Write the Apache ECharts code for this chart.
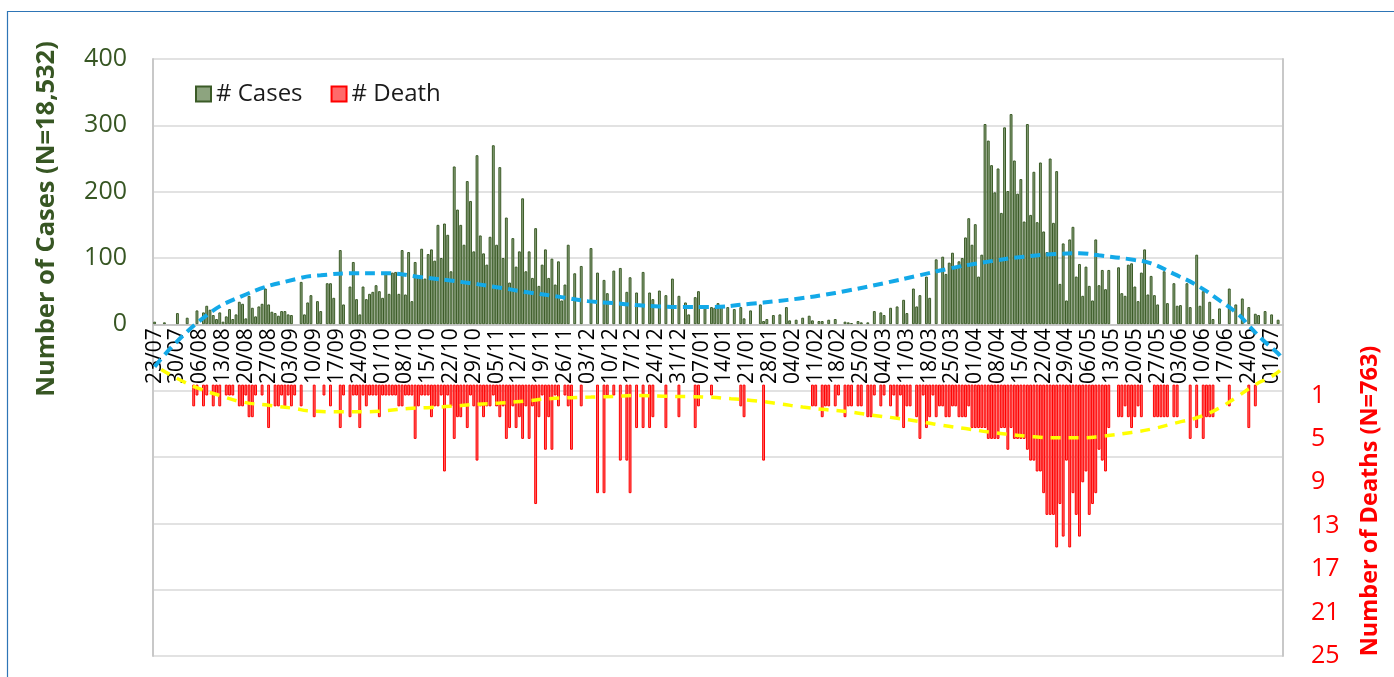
<!DOCTYPE html>
<html>
<head>
<meta charset="utf-8">
<script src="https://cdn.jsdelivr.net/npm/echarts@6.0.0/dist/echarts.min.js"></script>
<style>
html, body { margin: 0; padding: 0; background: #fff; }
#chart { width: 1394px; height: 677px; }
</style>
</head>
<body>
<div id="chart"></div>
<script>
// daily categories, 23/07 .. 04/07 (347 days)
const START_DAY = Date.UTC(2020, 6, 23);
const DAY_COUNT = 347;

// daily cases, one row per week starting 23/07
const cases = [
    4, 0, 0, 3, 0, 0, 0,
    17, 0, 0, 10, 0, 0, 21,
    0, 18, 28, 22, 14, 8, 18,
    4, 12, 23, 8, 15, 34, 31,
    9, 43, 25, 12, 27, 31, 54,
    30, 19, 17, 13, 20, 20, 15,
    14, 0, 0, 64, 15, 33, 44,
    0, 35, 20, 0, 62, 62, 40,
    0, 112, 30, 0, 57, 94, 38,
    15, 57, 38, 46, 49, 59, 50,
    40, 79, 46, 78, 79, 46, 112,
    45, 109, 35, 94, 73, 114, 69,
    106, 113, 96, 150, 100, 152, 135,
    80, 238, 173, 150, 120, 216, 186,
    110, 255, 134, 107, 90, 132, 270,
    120, 237, 100, 161, 63, 130, 87,
    110, 190, 80, 110, 70, 145, 58,
    90, 113, 70, 99, 60, 95, 36,
    60, 120, 0, 77, 0, 88, 0,
    0, 115, 0, 78, 0, 67, 47,
    0, 81, 0, 85, 0, 49, 71,
    0, 48, 0, 79, 0, 48, 38,
    0, 51, 0, 44, 0, 69, 0,
    43, 0, 33, 15, 0, 41, 50,
    0, 25, 0, 26, 25, 32, 26,
    0, 26, 0, 23, 0, 26, 9,
    0, 21, 0, 0, 30, 5, 8,
    0, 14, 0, 15, 0, 26, 6,
    0, 7, 0, 10, 0, 13, 6,
    0, 5, 5, 0, 7, 0, 8,
    0, 0, 4, 3, 2, 0, 5,
    3, 0, 3, 0, 20, 0, 18,
    14, 0, 25, 0, 27, 0, 37,
    17, 0, 54, 27, 44, 0, 72,
    40, 0, 98, 0, 102, 76, 93,
    108, 86, 95, 100, 131, 160, 120,
    151, 72, 105, 302, 277, 240, 199,
    235, 168, 297, 201, 317, 247, 197,
    219, 155, 302, 165, 230, 154, 244,
    140, 109, 250, 153, 231, 61, 122,
    36, 128, 147, 72, 91, 43, 87,
    58, 36, 128, 59, 82, 53, 82,
    0, 0, 86, 47, 43, 90, 92,
    57, 35, 78, 113, 45, 73, 44,
    30, 0, 80, 32, 0, 62, 28,
    29, 0, 62, 26, 0, 105, 28,
    50, 0, 34, 8, 0, 24, 0,
    0, 54, 0, 30, 0, 39, 0,
    26, 0, 16, 14, 0, 20, 0,
    15, 0, 7, 0
];

// daily deaths, same layout
const deaths = [
    0, 0, 0, 0, 0, 0, 0,
    0, 0, 0, 0, 0, 2, 1,
    0, 2, 1, 0, 2, 1, 2,
    0, 1, 1, 1, 0, 2, 2,
    1, 3, 3, 1, 0, 1, 0,
    4, 0, 2, 2, 1, 2, 1,
    2, 1, 0, 2, 0, 0, 0,
    3, 0, 0, 1, 0, 2, 0,
    0, 4, 1, 0, 3, 1, 1,
    4, 1, 2, 1, 1, 1, 3,
    1, 1, 1, 1, 1, 2, 2,
    1, 1, 1, 5, 2, 1, 1,
    1, 3, 2, 2, 1, 8, 1,
    2, 5, 3, 3, 2, 4, 1,
    2, 7, 2, 3, 2, 2, 1,
    2, 3, 2, 5, 4, 2, 4,
    3, 5, 2, 5, 2, 11, 3,
    1, 6, 3, 6, 1, 2, 0,
    1, 2, 6, 0, 0, 2, 0,
    0, 0, 0, 10, 0, 10, 1,
    0, 1, 0, 7, 0, 7, 10,
    0, 4, 0, 4, 0, 4, 3,
    0, 0, 0, 4, 0, 0, 0,
    3, 0, 0, 0, 0, 4, 2,
    0, 0, 0, 1, 0, 0, 0,
    0, 0, 0, 0, 0, 2, 3,
    0, 0, 0, 0, 0, 7, 0,
    0, 0, 0, 0, 0, 0, 0,
    0, 0, 0, 0, 0, 0, 2,
    2, 0, 3, 2, 2, 0, 2,
    1, 0, 3, 2, 2, 0, 2,
    2, 0, 3, 3, 1, 0, 2,
    1, 0, 2, 1, 3, 1, 4,
    2, 2, 0, 3, 5, 1, 4,
    3, 1, 3, 2, 2, 3, 3,
    2, 2, 3, 3, 3, 2, 4,
    4, 4, 4, 4, 5, 5, 5,
    5, 4, 4, 6, 4, 5, 5,
    5, 5, 6, 7, 7, 8, 8,
    10, 12, 12, 12, 15, 11, 14,
    7, 15, 10, 12, 14, 9, 8,
    12, 11, 10, 6, 7, 8, 4,
    0, 0, 3, 3, 2, 3, 4,
    3, 2, 3, 0, 0, 0, 3,
    3, 3, 3, 3, 0, 3, 3,
    0, 0, 0, 5, 0, 4, 0,
    5, 3, 3, 3, 0, 0, 0,
    0, 2, 0, 0, 0, 0, 0,
    4, 0, 2, 0, 0, 0, 0,
    0, 0, 0, 0
];

// polynomial trend lines (day index -> value)
const caseTrendDay = [0, 14, 28, 44, 51, 62, 71, 82, 94, 105, 115, 125, 133, 141, 148, 155, 162, 170,
    183, 191, 198, 205, 213, 224, 234, 244, 254, 267, 277, 284, 290, 301, 306, 313, 320, 327, 333, 336, 340, 345, 346];
const caseTrendVal = [-64, 6, 45, 69, 74, 77, 77, 71, 64, 56, 48, 41, 35, 32, 29, 27, 26, 26,
    31, 35, 39, 44, 51, 62, 73, 84, 93, 102, 106, 107, 104, 97, 92, 76, 59, 36, 14, -2, -22, -44, -50];

const deathTrendDay = [2, 8, 14, 20, 27, 35, 43, 47, 57, 64, 71, 78, 85, 91, 99, 106, 114, 121, 128, 134, 142,
    149, 156, 163, 170, 177, 185, 192, 199, 206, 213, 220, 228, 235, 242, 249, 257, 263, 270, 277, 284, 291,
    300, 306, 314, 320, 326, 332, 338, 343, 346];
const deathTrendVal = [-1.4, -0.4, 0.4, 1.0, 1.6, 1.9, 2.2, 2.4, 2.5, 2.5, 2.4, 2.2, 2.1, 2.0, 1.8, 1.7, 1.5, 1.3, 1.2, 1.15, 1.07,
    1.0, 1.07, 1.1, 1.15, 1.3, 1.5, 1.77, 2.07, 2.3, 2.5, 2.8, 3.1, 3.4, 3.75, 4.05, 4.4, 4.6, 4.8, 4.9, 4.9, 4.75,
    4.4, 4.1, 3.5, 3.05, 2.3, 1.2, 0, -0.76, -1.4];

const deathTicks = [1, 5, 9, 13, 17, 21, 25];

const FONT = 'Open Sans';
const GREEN_TEXT = '#375623';

// plot box: cases axis runs -500..400, so 0 sits 500/900 of the way up
const GRID_TOP = 59;
const GRID_BOTTOM = 21;
const PLOT_H = 677 - GRID_TOP - GRID_BOTTOM;
const ZERO_OFFSET = -PLOT_H * 500 / 900;

let days = [];
for (let i = 0; i < DAY_COUNT; i++) {
    let d = new Date(START_DAY + i * 86400000);
    let dd = String(d.getUTCDate()).padStart(2, '0');
    let mm = String(d.getUTCMonth() + 1).padStart(2, '0');
    days.push(dd + '/' + mm);
}

function pairs(xs, ys) {
    return xs.map((x, k) => [x, ys[k]]);
}

// empty days get no bar at all (a 0 bar with a border would draw a line)
function skipZero(arr) {
    return arr.map(v => (v === 0 ? '-' : v));
}

let chart = echarts.init(document.getElementById('chart'));

chart.setOption({
    animation: false,
    textStyle: { fontFamily: FONT },
    grid: { left: 153, right: 111, top: GRID_TOP, bottom: GRID_BOTTOM, containLabel: false, outerBoundsMode: 'none' },
    legend: {
        left: 190,
        top: 77,
        itemWidth: 15,
        itemHeight: 15,
        itemGap: 28,
        icon: 'rect',
        textStyle: { fontSize: 24, color: '#1a1a1a', fontFamily: FONT },
        data: ['# Cases', '# Death']
    },
    xAxis: {
        type: 'category',
        data: days,
        boundaryGap: true,
        position: 'bottom',
        offset: ZERO_OFFSET,
        z: 10,
        axisLine: { onZero: false, lineStyle: { color: '#BFBFBF', width: 1.5 } },
        axisTick: { interval: 6, length: 6, lineStyle: { color: '#A6A6A6' } },
        axisLabel: { interval: 6, rotate: 90, fontSize: 21, color: '#000000', margin: 4 }
    },
    yAxis: [
        {
            type: 'value',
            min: -500,
            max: 400,
            interval: 100,
            position: 'left',
            axisLine: { show: true, lineStyle: { color: '#C8C8C8', width: 2 } },
            axisTick: { show: false },
            splitLine: { lineStyle: { color: '#D9D9D9', width: 1.5 } },
            axisLabel: {
                fontSize: 25,
                color: GREEN_TEXT,
                margin: 26,
                formatter: v => (v >= 0 ? String(v) : '')
            }
        },
        {
            type: 'value',
            min: -30,
            max: 25,
            interval: 1,
            inverse: true,
            position: 'right',
            axisLine: { show: true, lineStyle: { color: '#C8C8C8', width: 2 } },
            axisTick: { show: false },
            splitLine: { show: false },
            axisLabel: {
                fontSize: 25,
                color: '#FF0000',
                margin: 28,
                formatter: v => (deathTicks.indexOf(v) >= 0 ? String(v) : '')
            }
        }
    ],
    series: [
        {
            name: '# Cases',
            type: 'bar',
            yAxisIndex: 0,
            data: skipZero(cases),
            barGap: '-100%',
            barCategoryGap: '12%',
            itemStyle: { color: '#8DA47F', borderColor: '#3B5B27', borderWidth: 1 }
        },
        {
            name: '# Death',
            type: 'bar',
            yAxisIndex: 1,
            data: skipZero(deaths),
            barGap: '-100%',
            barCategoryGap: '12%',
            itemStyle: { color: '#FF6A6A', borderColor: '#FF0000', borderWidth: 1 }
        },
        {
            name: 'cases trend',
            type: 'line',
            yAxisIndex: 0,
            data: pairs(caseTrendDay, caseTrendVal),
            smooth: true,
            showSymbol: false,
            z: 12,
            lineStyle: { color: '#13A9E8', width: 4, type: [10, 6] }
        },
        {
            name: 'death trend',
            type: 'line',
            yAxisIndex: 1,
            data: pairs(deathTrendDay, deathTrendVal),
            smooth: true,
            showSymbol: false,
            z: 12,
            lineStyle: { color: '#FFFF00', width: 3.5, type: [10, 8] }
        }
    ],
    graphic: [
        {
            type: 'rect',
            shape: { x: 7.5, y: 11.5, width: 1400, height: 700 },
            style: { fill: null, stroke: '#2E75B6', lineWidth: 1.2 },
            silent: true
        },
        {
            type: 'text',
            x: 47,
            y: 219,
            rotation: Math.PI / 2,
            style: {
                text: 'Number of Cases (N=18,532)',
                font: 'bold 25.5px "Open Sans"',
                fill: GREEN_TEXT,
                align: 'center',
                verticalAlign: 'middle'
            }
        },
        {
            type: 'text',
            x: 1370,
            y: 501,
            rotation: Math.PI / 2,
            style: {
                text: 'Number of Deaths (N=763)',
                font: 'bold 23.5px "Open Sans"',
                fill: '#FF0000',
                align: 'center',
                verticalAlign: 'middle'
            }
        }
    ]
});
</script>
</body>
</html>
